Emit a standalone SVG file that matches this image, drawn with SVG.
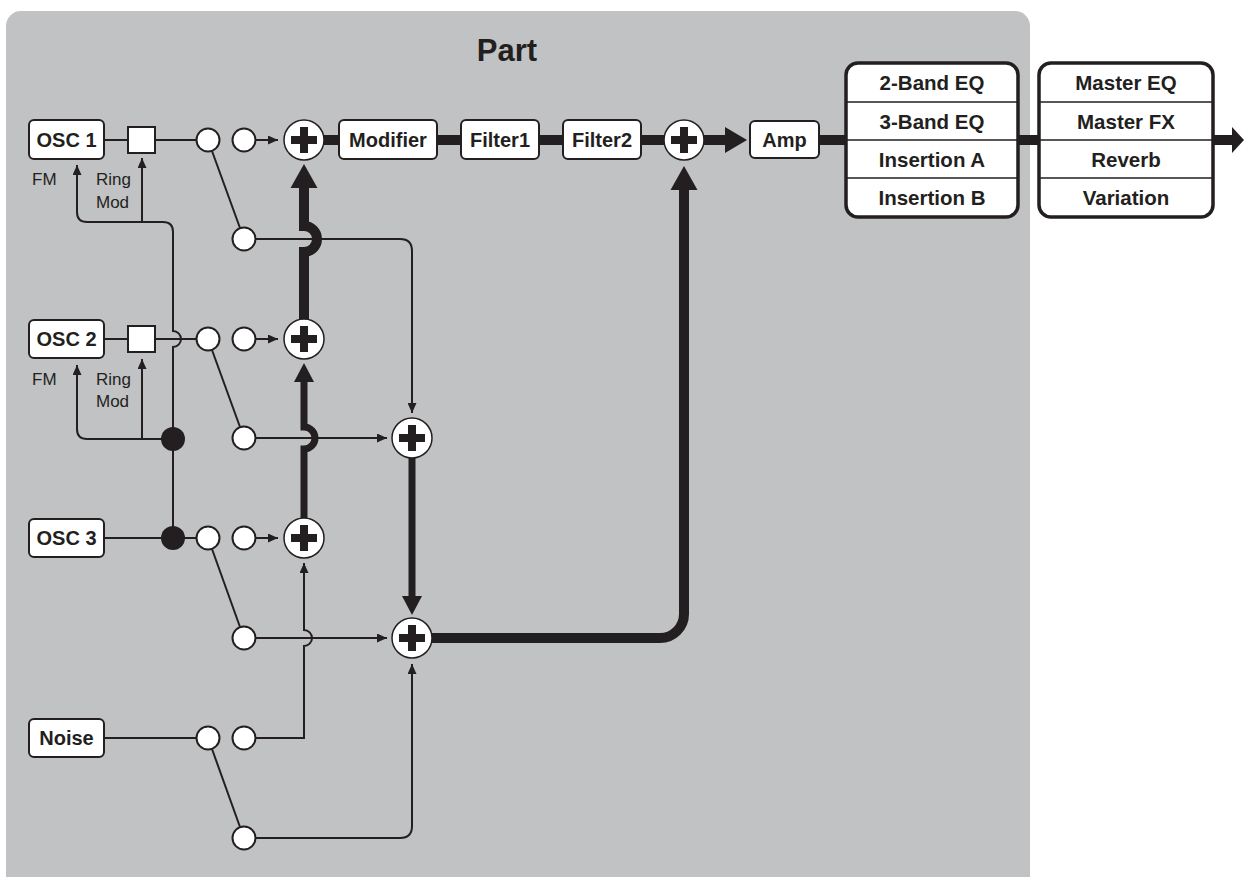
<svg xmlns="http://www.w3.org/2000/svg" width="1244" height="877" viewBox="0 0 1244 877">
<defs>
<style>
.ln{fill:none;stroke:#231f20;stroke-width:2}
.thk{fill:none;stroke:#231f20;stroke-width:10}
.thk7{fill:none;stroke:#231f20;stroke-width:7}
.ah{fill:#231f20}
.box{fill:#fff;stroke:#231f20;stroke-width:2}
.big{fill:#fff;stroke:#231f20;stroke-width:3.5}
.dv{stroke:#231f20;stroke-width:1.5}
.sw{fill:#fff;stroke:#231f20;stroke-width:2}
.dot{fill:#231f20}
.lbl{font-family:"Liberation Sans",Arial,sans-serif;font-weight:bold;font-size:20px;fill:#231f20;text-anchor:middle}
.blbl{font-family:"Liberation Sans",Arial,sans-serif;font-weight:bold;font-size:20.5px;fill:#231f20;text-anchor:middle}
.sm{font-family:"Liberation Sans",Arial,sans-serif;font-size:17px;fill:#231f20}
.title{font-family:"Liberation Sans",Arial,sans-serif;font-weight:bold;font-size:31px;fill:#231f20;text-anchor:middle}
</style>
<marker id="a" markerWidth="10" markerHeight="9" refX="10" refY="4.5" orient="auto" markerUnits="userSpaceOnUse"><path d="M0,0 L10,4.5 L0,9z" fill="#231f20"/></marker>
<g id="plusShape"><circle r="20" fill="#fff" stroke="#231f20" stroke-width="1.5"/><rect x="-13" y="-4" width="26" height="8" fill="#231f20"/><rect x="-4" y="-13" width="8" height="26" fill="#231f20"/></g>
</defs>

<rect id="panel" x="6" y="11" width="1024" height="900" rx="15" fill="#c1c2c4"/>
<text class="title" x="507" y="61">Part</text>

<g id="connectors">
  <!-- OSC outputs -->
  <path class="ln" d="M104,140 H128 M155,140 H196.5"/>
  <path class="ln" d="M104,339 H128 M155,339 H196.5"/>
  <path class="ln" d="M104,538 H196.5"/>
  <path class="ln" d="M104,738 H196.5"/>
  <!-- switch diagonals -->
  <path class="ln" d="M212,151 L240,228"/>
  <path class="ln" d="M212,350 L240,427"/>
  <path class="ln" d="M212,549 L240,627"/>
  <path class="ln" d="M212,749 L240,827"/>
  <!-- switch to plus arrows -->
  <path class="ln" marker-end="url(#a)" d="M255.5,140 H278"/>
  <path class="ln" marker-end="url(#a)" d="M255.5,339 H278"/>
  <path class="ln" marker-end="url(#a)" d="M255.5,538 H278"/>
  <!-- lower switch outputs -->
  <path class="ln" marker-end="url(#a)" d="M255.5,239 H400 Q412,239 412,251 V413"/>
  <path class="ln" marker-end="url(#a)" d="M255.5,438 H387"/>
  <path class="ln" marker-end="url(#a)" d="M255.5,638 H387"/>
  <path class="ln" marker-end="url(#a)" d="M255.5,738 H304 V646 A8,8 0 0 0 304,630 V563"/>
  <path class="ln" marker-end="url(#a)" d="M255.5,838 H400 Q412,838 412,826 V664"/>
  <!-- modulation network -->
  <path class="ln" marker-end="url(#a)" d="M173,439 V347 A8,8 0 0 0 173,331 V232 Q173,222 163,222 H87 Q77,222 77,212 V165"/>
  <path class="ln" marker-end="url(#a)" d="M142,222 V158"/>
  <path class="ln" marker-end="url(#a)" d="M173,439 H87 Q77,439 77,429 V365"/>
  <path class="ln" marker-end="url(#a)" d="M142,439 V359"/>
  <path class="ln" d="M173,439 V538"/>
  <!-- thick signal paths -->
  <path class="thk" d="M324,140 H725"/>
  <polygon class="ah" points="725,127 747,140 725,153"/>
  <path class="thk" d="M819,140 H1232"/>
  <polygon class="ah" points="1232,127 1244,140 1232,153"/>
  <path class="thk" d="M304,319 V252 A13,13 0 0 0 304,226 V186"/>
  <polygon class="ah" points="290.5,188 317.5,188 304,164"/>
  <path class="thk7" d="M304,518 V449 A11,11 0 0 0 304,427 V380"/>
  <polygon class="ah" points="294,382 314,382 304,363"/>
  <path class="thk7" d="M412,458 V598"/>
  <polygon class="ah" points="402,596 422,596 412,615"/>
  <path class="thk" d="M432,638 H660 A24,24 0 0 0 684,614 V188"/>
  <polygon class="ah" points="670.5,190 697.5,190 684,166"/>
</g>

<g id="osc1"><rect class="box" x="29" y="120" width="75" height="39" rx="5"/><text class="lbl" x="66.5" y="146.5">OSC 1</text></g>
<g id="osc2"><rect class="box" x="29" y="320" width="75" height="38" rx="5"/><text class="lbl" x="66.5" y="346">OSC 2</text></g>
<g id="osc3"><rect class="box" x="29" y="519" width="75" height="38" rx="5"/><text class="lbl" x="66.5" y="545">OSC 3</text></g>
<g id="noise"><rect class="box" x="29" y="719" width="75" height="38" rx="5"/><text class="lbl" x="66.5" y="745">Noise</text></g>

<g id="ringmod1"><rect class="box" x="128" y="127" width="27" height="26"/></g>
<g id="ringmod2"><rect class="box" x="128" y="326" width="27" height="26"/></g>

<g id="labels1"><text class="sm" x="32" y="185">FM</text><text class="sm" x="96" y="185">Ring</text><text class="sm" x="96" y="208">Mod</text></g>
<g id="labels2"><text class="sm" x="32" y="385">FM</text><text class="sm" x="96" y="385">Ring</text><text class="sm" x="96" y="407">Mod</text></g>

<g id="junction1"><circle class="dot" cx="173" cy="439" r="12"/></g>
<g id="junction2"><circle class="dot" cx="173" cy="538" r="12"/></g>

<g id="sw1a"><circle class="sw" cx="208" cy="140" r="11.5"/></g>
<g id="sw1b"><circle class="sw" cx="244" cy="140" r="11.5"/></g>
<g id="sw1c"><circle class="sw" cx="244" cy="239" r="11.5"/></g>
<g id="sw2a"><circle class="sw" cx="208" cy="339" r="11.5"/></g>
<g id="sw2b"><circle class="sw" cx="244" cy="339" r="11.5"/></g>
<g id="sw2c"><circle class="sw" cx="244" cy="438" r="11.5"/></g>
<g id="sw3a"><circle class="sw" cx="208" cy="538" r="11.5"/></g>
<g id="sw3b"><circle class="sw" cx="244" cy="538" r="11.5"/></g>
<g id="sw3c"><circle class="sw" cx="244" cy="638" r="11.5"/></g>
<g id="sw4a"><circle class="sw" cx="208" cy="738" r="11.5"/></g>
<g id="sw4b"><circle class="sw" cx="244" cy="738" r="11.5"/></g>
<g id="sw4c"><circle class="sw" cx="244" cy="838" r="11.5"/></g>

<g id="mix1"><use href="#plusShape" x="304" y="140"/></g>
<g id="mix2"><use href="#plusShape" x="304" y="339"/></g>
<g id="mix3"><use href="#plusShape" x="304" y="538"/></g>
<g id="mix4"><use href="#plusShape" x="412" y="438"/></g>
<g id="mix5"><use href="#plusShape" x="412" y="638"/></g>
<g id="mix6"><use href="#plusShape" x="684" y="140"/></g>

<g id="modifier"><rect class="box" x="339" y="120" width="98" height="39" rx="5"/><text class="lbl" x="388" y="146.5">Modifier</text></g>
<g id="filter1"><rect class="box" x="461" y="120" width="78" height="39" rx="5"/><text class="lbl" x="500" y="146.5">Filter1</text></g>
<g id="filter2"><rect class="box" x="563" y="120" width="78" height="39" rx="5"/><text class="lbl" x="602" y="146.5">Filter2</text></g>
<g id="amp"><rect class="box" x="750" y="121" width="69" height="37" rx="5"/><text class="lbl" x="784.5" y="146.5">Amp</text></g>

<g id="partfx">
  <rect class="big" x="846" y="63" width="172" height="154" rx="12"/>
  <line class="dv" x1="847" y1="102" x2="1017" y2="102"/>
  <line class="dv" x1="847" y1="140" x2="1017" y2="140"/>
  <line class="dv" x1="847" y1="178" x2="1017" y2="178"/>
  <text class="blbl" x="932" y="90">2-Band EQ</text>
  <text class="blbl" x="932" y="128.5">3-Band EQ</text>
  <text class="blbl" x="932" y="166.5">Insertion A</text>
  <text class="blbl" x="932" y="205">Insertion B</text>
</g>
<g id="masterfx">
  <rect class="big" x="1039" y="63" width="174" height="154" rx="12"/>
  <line class="dv" x1="1040" y1="102" x2="1212" y2="102"/>
  <line class="dv" x1="1040" y1="140" x2="1212" y2="140"/>
  <line class="dv" x1="1040" y1="178" x2="1212" y2="178"/>
  <text class="blbl" x="1126" y="90">Master EQ</text>
  <text class="blbl" x="1126" y="128.5">Master FX</text>
  <text class="blbl" x="1126" y="166.5">Reverb</text>
  <text class="blbl" x="1126" y="205">Variation</text>
</g>
</svg>
